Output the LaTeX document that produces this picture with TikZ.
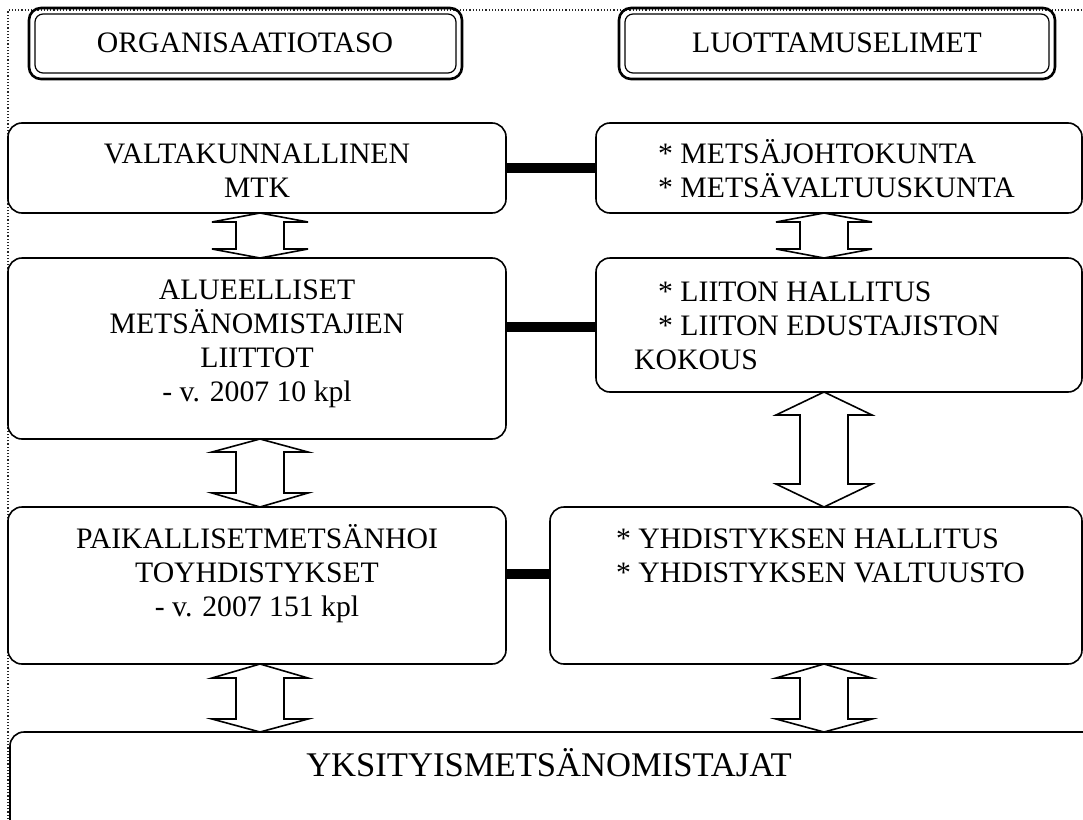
\documentclass[tikz,border=0pt]{standalone}
\usepackage{fontspec}
\setmainfont{Liberation Serif}
\usetikzlibrary{calc}

% up-down block arrow: x, upper anchor, lower anchor, head lengths
\newcommand{\twowayarrow}[5]{%
  \draw[blockarrow] let \p1 = (#2), \p2 = (#3) in
    (#1,\y1) -- (#1+48,\y1-#4) -- (#1+24,\y1-#4) -- (#1+24,\y2+#5)
    -- (#1+48,\y2+#5) -- (#1,\y2) -- (#1-48,\y2+#5) -- (#1-24,\y2+#5)
    -- (#1-24,\y1-#4) -- (#1-48,\y1-#4) -- cycle;
}

\begin{document}
\begin{tikzpicture}[x=1pt, y=-1pt,
    box/.style={draw, rounded corners=14pt, line width=1.6pt, inner sep=0pt,
      outer sep=0pt, anchor=north west, fill=white},
    headbox/.style={draw, rounded corners=12pt, line width=2.6pt, inner sep=0pt,
      outer sep=0pt, anchor=north west},
    txt/.style={inner sep=0pt, align=center, font=\fontsize{29.7}{34}\selectfont},
    link/.style={line width=10pt},
    blockarrow/.style={draw, fill=white, line width=1.6pt, line join=miter}]
        \useasboundingbox (0,0) rectangle (1083,819);
        \fill[white] (0,0) rectangle (1083,819);

        % Dotted frame
        \draw[dotted, line width=1.2pt, black!85] (8,819) -- (8,10) -- (1083,10);

        % Headings
        \node[headbox, minimum width=433pt, minimum height=71pt] (org) at (29,8) {};
        \draw[line width=1.2pt, rounded corners=8pt]
            ([shift={(6,6)}]org.north west) rectangle ([shift={(-6,-6)}]org.south east);
        \node[txt, anchor=base] (orgT) at (245,52) {ORGANISAATIOTASO};

        \node[headbox, minimum width=436pt, minimum height=71pt] (luott) at (619,8) {};
        \draw[line width=1.2pt, rounded corners=8pt]
            ([shift={(6,6)}]luott.north west) rectangle ([shift={(-6,-6)}]luott.south east);
        \node[txt, anchor=base] (luottT) at (837,52) {LUOTTAMUSELIMET};

        % Boxes
        \node[box, minimum width=498pt, minimum height=90pt] (valt) at (8,123) {};
        \node[box, minimum width=486pt, minimum height=90pt] (metsa) at (596,123) {};
        \node[box, minimum width=498pt, minimum height=181pt] (alue) at (8,258) {};
        \node[box, minimum width=486pt, minimum height=134pt] (liiton) at (596,258) {};
        \node[box, minimum width=498pt, minimum height=157pt] (paik) at (8,507) {};
        \node[box, minimum width=532pt, minimum height=157pt] (yhd) at (550,507) {};
        \node[box, minimum width=1150pt, minimum height=150pt] (yks) at (10,732) {};

        % Links
        \draw[link] (valt) -- (metsa);
        \draw[link] (alue.east |- 0,327) -- (liiton.west |- 0,327);
        \draw[link] (paik.east |- 0,574) -- (yhd.west |- 0,574);

        % Arrows
        \twowayarrow{260}{valt.south}{alue.north}{9}{9}
        \twowayarrow{824}{metsa.south}{liiton.north}{9}{9}
        \twowayarrow{260}{alue.south}{paik.north}{13}{14}
        \twowayarrow{824}{liiton.south}{yhd.north}{23}{23}
        \twowayarrow{260}{paik.south}{yks.north}{14}{13}
        \twowayarrow{824}{yhd.south}{yks.north}{14}{13}

        % Texts (base = last line)
        \node[txt, anchor=base] (valtT) at (257,197) {VALTAKUNNALLINEN\\MTK};
        \node[txt, anchor=base west, align=left] (metsaT) at (658,197)
            {* METSÄJOHTOKUNTA\\* METSÄVALTUUSKUNTA};
        \node[txt, anchor=base] (alueT) at (257,401)
            {ALUEELLISET\\METSÄNOMISTAJIEN\\LIITTOT\\- v. 2007 10 kpl};
        \node[txt, anchor=base west, align=left] (liitonT) at (658,335)
            {* LIITON HALLITUS\\* LIITON EDUSTAJISTON};
        \node[txt, anchor=base west] (liitonK) at (634,369) {KOKOUS};
        \node[txt, anchor=base] (paikT) at (257,616)
            {PAIKALLISETMETSÄNHOI\\TOYHDISTYKSET\\- v. 2007 151 kpl};
        \node[txt, anchor=base west, align=left] (yhdT) at (616,582)
            {* YHDISTYKSEN HALLITUS\\* YHDISTYKSEN VALTUUSTO};
        \node[txt, anchor=base, font=\fontsize{34.6}{40}\selectfont] (yksT) at (549,776)
            {YKSITYISMETSÄNOMISTAJAT};
\end{tikzpicture}
\end{document}
